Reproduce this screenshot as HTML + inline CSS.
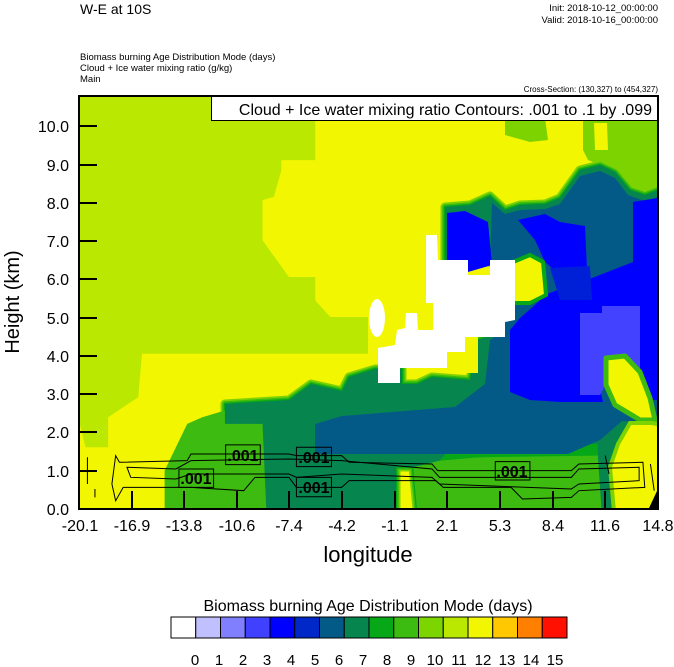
<!DOCTYPE html>
<html><head><meta charset="utf-8"><style>
html,body{margin:0;padding:0;background:#fff;}
svg{display:block;font-family:"Liberation Sans",sans-serif;}
</style></head><body>
<svg width="674" height="667" viewBox="0 0 674 667" xmlns="http://www.w3.org/2000/svg">
<defs><clipPath id="c"><rect x="79" y="96" width="579" height="413"/></clipPath></defs>
<text x="80" y="14" font-size="14">W-E at 10S</text>
<text x="658" y="11" font-size="9.5" text-anchor="end">Init: 2018-10-12_00:00:00</text>
<text x="658" y="23" font-size="9.5" text-anchor="end">Valid: 2018-10-16_00:00:00</text>
<text x="80" y="60" font-size="9.5">Biomass burning Age Distribution Mode    (days)</text>
<text x="80" y="71" font-size="9.5">Cloud + Ice water mixing ratio    (g/kg)</text>
<text x="80" y="82" font-size="9.5">Main</text>
<text x="658" y="92" font-size="8" text-anchor="end">Cross-Section: (130,327) to (454,327)</text>

<g clip-path="url(#c)">
<rect x="79" y="96" width="579" height="413" fill="#f2f600"/>
<g transform="translate(78,90) scale(0.3766,0.3339)">
<polygon fill="#bae800" points="0,0 630,0 630,210 540,210 540,240 520,320 490,330 490,450 560,560 630,560 630,630 670,680 770,680 770,790 170,790 160,920 80,980 80,1070 20,1070 0,980"/>
</g>
<polygon fill="#7dd300" points="505,120 545,118 548,140 530,142 505,135"/>
<polygon fill="#7dd300" points="583,118 658,116 658,205 645,208 630,190 615,172 600,165 588,160 583,150"/>
<polygon fill="#f2f600" points="594,123 607,123 608,150 595,150"/>
<g>
<polygon fill="#7dd300" stroke="#7dd300" stroke-width="9" stroke-linejoin="round" points="266,509 262,424 225,424 225,404 289,400 311,384 342,391 349,377 375,369 402,369 402,384 417,384 432,377 470,380 478,340 500,332 500,262 445,262 445,207 470,205 490,196 505,210 520,205 545,204 560,198 580,170 600,165 615,172 630,190 645,195 658,190 658,424 652,421 629,421 618,444 610,467 614,509 417,509 413,467 396,467 396,509"/>
<polygon fill="#3dbb10" stroke="#3dbb10" stroke-width="5.5" stroke-linejoin="round" points="266,509 262,424 225,424 225,404 289,400 311,384 342,391 349,377 375,369 402,369 402,384 417,384 432,377 470,380 478,340 500,332 500,262 445,262 445,207 470,205 490,196 505,210 520,205 545,204 560,198 580,170 600,165 615,172 630,190 645,195 658,190 658,424 652,421 629,421 618,444 610,467 614,509 417,509 413,467 396,467 396,509"/>
<polygon fill="#06a817" stroke="#06a817" stroke-width="2.5" stroke-linejoin="round" points="266,509 262,424 225,424 225,404 289,400 311,384 342,391 349,377 375,369 402,369 402,384 417,384 432,377 470,380 478,340 500,332 500,262 445,262 445,207 470,205 490,196 505,210 520,205 545,204 560,198 580,170 600,165 615,172 630,190 645,195 658,190 658,424 652,421 629,421 618,444 610,467 614,509 417,509 413,467 396,467 396,509"/>
<polygon fill="#07854f" points="266,509 262,424 225,424 225,404 289,400 311,384 342,391 349,377 375,369 402,369 402,384 417,384 432,377 470,380 478,340 500,332 500,262 445,262 445,207 470,205 490,196 505,210 520,205 545,204 560,198 580,170 600,165 615,172 630,190 645,195 658,190 658,424 652,421 629,421 618,444 610,467 614,509 417,509 413,467 396,467 396,509"/>
</g>
<g transform="translate(78,90) scale(0.3766,0.3339)">
<polygon fill="#3dbb10" points="230,1255 230,1140 290,1000 330,980 390,960 390,1000 490,1000 500,1255"/>
<polygon fill="#3dbb10" points="900,1255 890,1130 960,1110 1060,1100 1380,1090 1390,1255"/>
<polygon fill="#06a817" points="960,1110 1000,1060 1100,1050 1380,1060 1380,1095 1060,1100"/>
</g>
<polygon fill="#045a87" points="315,424 342,416 455,407 485,384 490,340 505,330 505,262 490,262 492,203 505,214 520,210 545,209 560,204 580,176 600,171 615,178 628,195 645,201 658,197 658,424 622,421 600,440 568,454 455,454 315,454"/>
<polygon fill="#0000ff" points="447,213 465,211 488,222 492,265 468,272 447,262"/>
<polygon fill="#0000ff" points="518,220 545,214 560,222 585,226 587,269 560,275 545,262 535,240"/>
<polygon fill="#0000ff" points="633,202 658,198 658,400 640,400 640,313 580,313 580,383 600,390 603,402 560,402 530,400 510,392 510,330 520,318 535,305 545,295 560,289 587,280 633,262"/>
<polygon fill="#0020d8" points="550,268 590,266 592,300 560,300"/>
<polygon fill="#4343ff" points="580,313 602,313 602,306 640,306 640,383 605,386 600,395 580,395"/>
<polygon fill="#f2f600" stroke="#3dbb10" stroke-width="5" stroke-linejoin="round" points="606,358 625,356 640,372 650,398 655,420 640,420 615,405 606,385"/>
<polygon fill="#f2f600" stroke="#06a817" stroke-width="4" points="513,262 530,255 543,262 546,295 530,303 513,303"/>
<polygon fill="#f2f600" points="447,330 478,330 478,373 447,373"/>
<polygon fill="#f2f600" stroke="#7dd300" stroke-width="4" points="630,423 652,423 662,425 662,512 614,512 610,467 618,444"/>
<polygon fill="#fff" points="426,235 437,235 438,260 468,260 468,275 490,275 490,260 515,260 515,320 505,322 505,337 465,337 465,352 447,352 447,368 400,368 400,383 378,383 378,348 395,345 397,330 405,328 406,313 417,313 418,330 433,330 433,303 426,303"/>
<ellipse cx="377" cy="318" rx="8" ry="19" fill="#fff"/>
<g transform="translate(78,90) scale(0.3766,0.3339)">
<polygon fill="#000" points="1515,1255 1540,1195 1545,1260"/>
<g fill="none" stroke="#000" stroke-width="1">
<path vector-effect="non-scaling-stroke" d="M110,1115 L290,1110 300,1090 560,1090 580,1095 700,1095 720,1115 940,1120 955,1140 1310,1140 1330,1120 1500,1115 1505,1190 1330,1200 1310,1220 1180,1225 1150,1190 970,1190 950,1170 720,1170 700,1190 580,1190 560,1160 470,1160 440,1200 300,1190 120,1190 100,1230 90,1180 100,1095 Z"/>
<path vector-effect="non-scaling-stroke" d="M130,1130 L260,1135 300,1110 560,1105 700,1110 940,1135 960,1160 1310,1160 1330,1135 1490,1130 1490,1170 1330,1180 1310,1195 960,1180 940,1160 700,1150 580,1160 560,1150 300,1150 260,1165 140,1160 Z"/>
<path vector-effect="non-scaling-stroke" d="M25,1100 L25,1180 M5,1140 L45,1140 M45,1195 L45,1220"/>
<path vector-effect="non-scaling-stroke" d="M1400,1095 L1410,1150 M1520,1120 L1530,1200"/>
</g>
<g fill="none" stroke="#000" stroke-width="1">
<rect vector-effect="non-scaling-stroke" x="268" y="1135" width="92" height="55"/>
<rect vector-effect="non-scaling-stroke" x="392" y="1063" width="92" height="59"/>
<rect vector-effect="non-scaling-stroke" x="580" y="1070" width="93" height="58"/>
<rect vector-effect="non-scaling-stroke" x="580" y="1160" width="93" height="58"/>
<rect vector-effect="non-scaling-stroke" x="1108" y="1113" width="92" height="55"/>
</g>
</g>
<g font-size="16" text-anchor="middle" font-weight="bold">
<text x="196" y="484">.001</text>
<text x="243" y="461">.001</text>
<text x="314" y="463">.001</text>
<text x="314" y="493">.001</text>
<text x="512" y="477">.001</text>
</g>
</g>
<rect x="211.5" y="96.5" width="446" height="24" fill="#fff" stroke="#000" stroke-width="1"/>
<text x="652" y="115" font-size="16" text-anchor="end">Cloud + Ice water mixing ratio Contours: .001 to .1 by .099</text>
<rect x="79" y="96" width="579" height="413" fill="none" stroke="#000" stroke-width="2"/>
<g stroke="#000" stroke-width="2">
<line x1="79" y1="471" x2="97" y2="471"/><line x1="79" y1="432" x2="97" y2="432"/><line x1="79" y1="394" x2="97" y2="394"/><line x1="79" y1="356" x2="97" y2="356"/><line x1="79" y1="318" x2="97" y2="318"/><line x1="79" y1="279" x2="97" y2="279"/><line x1="79" y1="241" x2="97" y2="241"/><line x1="79" y1="203" x2="97" y2="203"/><line x1="79" y1="165" x2="97" y2="165"/><line x1="79" y1="126" x2="97" y2="126"/>
<line x1="132" y1="491" x2="132" y2="509"/><line x1="184" y1="491" x2="184" y2="509"/><line x1="237" y1="491" x2="237" y2="509"/><line x1="289" y1="491" x2="289" y2="509"/><line x1="342" y1="491" x2="342" y2="509"/><line x1="395" y1="491" x2="395" y2="509"/><line x1="447" y1="491" x2="447" y2="509"/><line x1="500" y1="491" x2="500" y2="509"/><line x1="553" y1="491" x2="553" y2="509"/><line x1="605" y1="491" x2="605" y2="509"/>
</g>
<g font-size="16" text-anchor="end">
<text x="69" y="515">0.0</text><text x="69" y="477">1.0</text><text x="69" y="438">2.0</text><text x="69" y="400">3.0</text><text x="69" y="362">4.0</text><text x="69" y="324">5.0</text><text x="69" y="285">6.0</text><text x="69" y="247">7.0</text><text x="69" y="209">8.0</text><text x="69" y="171">9.0</text><text x="69" y="132">10.0</text>
</g>
<g font-size="16" text-anchor="middle">
<text x="80" y="531">-20.1</text><text x="132" y="531">-16.9</text><text x="184" y="531">-13.8</text><text x="237" y="531">-10.6</text><text x="289" y="531">-7.4</text><text x="342" y="531">-4.2</text><text x="395" y="531">-1.1</text><text x="447" y="531">2.1</text><text x="500" y="531">5.3</text><text x="553" y="531">8.4</text><text x="605" y="531">11.6</text><text x="658" y="531">14.8</text>
</g>
<text x="368" y="562" font-size="22" text-anchor="middle">longitude</text>
<text transform="translate(19,302) rotate(-90)" font-size="20" text-anchor="middle">Height (km)</text>
<text x="368" y="611" font-size="16" text-anchor="middle">Biomass burning Age Distribution Mode  (days)</text>
<g stroke="#000" stroke-width="1">
<rect x="171" y="617" width="24.75" height="21" fill="#fff"/>
<rect x="195.75" y="617" width="24.75" height="21" fill="#c0c0ff"/>
<rect x="220.5" y="617" width="24.75" height="21" fill="#8080ff"/>
<rect x="245.25" y="617" width="24.75" height="21" fill="#4040ff"/>
<rect x="270" y="617" width="24.75" height="21" fill="#0000ff"/>
<rect x="294.75" y="617" width="24.75" height="21" fill="#0028c8"/>
<rect x="319.5" y="617" width="24.75" height="21" fill="#045a87"/>
<rect x="344.25" y="617" width="24.75" height="21" fill="#07854f"/>
<rect x="369" y="617" width="24.75" height="21" fill="#06a817"/>
<rect x="393.75" y="617" width="24.75" height="21" fill="#3cbb10"/>
<rect x="418.5" y="617" width="24.75" height="21" fill="#7dd500"/>
<rect x="443.25" y="617" width="24.75" height="21" fill="#bae800"/>
<rect x="468" y="617" width="24.75" height="21" fill="#f2f600"/>
<rect x="492.75" y="617" width="24.75" height="21" fill="#ffc800"/>
<rect x="517.5" y="617" width="24.75" height="21" fill="#ff8000"/>
<rect x="542.25" y="617" width="24.75" height="21" fill="#ff1000"/>
</g>
<g font-size="15" text-anchor="middle">
<text x="195" y="665">0</text><text x="219" y="665">1</text><text x="243" y="665">2</text><text x="267" y="665">3</text><text x="291" y="665">4</text><text x="315" y="665">5</text><text x="339" y="665">6</text><text x="363" y="665">7</text><text x="387" y="665">8</text><text x="411" y="665">9</text><text x="435" y="665">10</text><text x="459" y="665">11</text><text x="483" y="665">12</text><text x="507" y="665">13</text><text x="531" y="665">14</text><text x="555" y="665">15</text>
</g>
</svg>
</body></html>
